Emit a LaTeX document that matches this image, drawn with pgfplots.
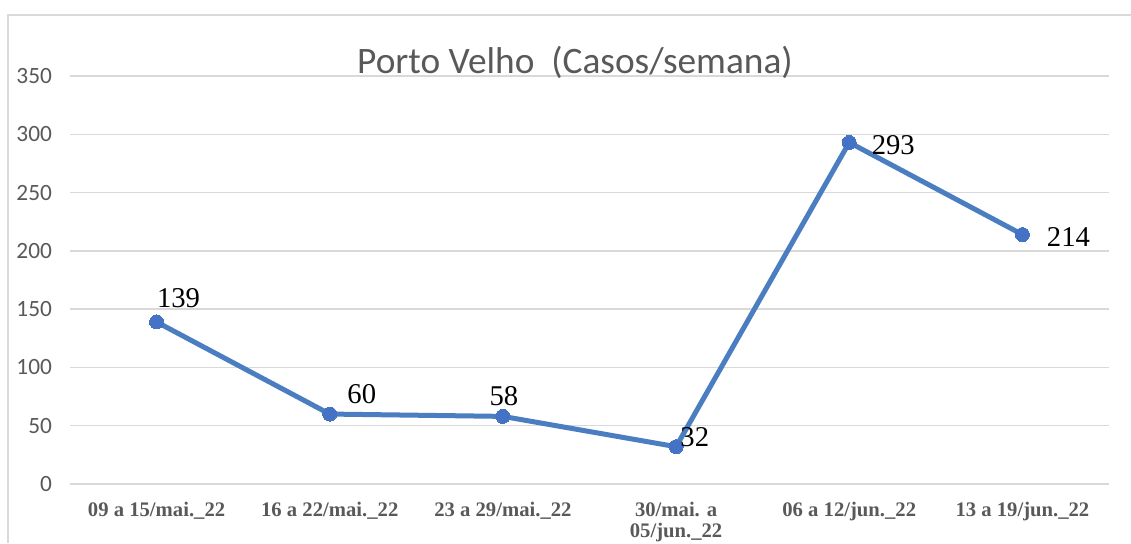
\documentclass[border=0pt]{standalone}
\usepackage{pgfplots}
\pgfplotsset{compat=1.18}
\usepackage{fontspec}
\setmainfont{Liberation Serif}
\newfontfamily\carlito{Carlito}
\definecolor{txtgray}{HTML}{595959}
\definecolor{gridgray}{HTML}{D9D9D9}
\definecolor{linec}{RGB}{74,126,193}
\definecolor{markc}{RGB}{68,114,196}
\pgfplotstableread{
x y dx dy
0 139 16.5 18
1 60 24 15
2 58 0.75 15
3 32 14 7.5
4 293 33 -2.25
5 214 34.5 -1.5
}\datatable
\begin{document}
\begin{tikzpicture}
\begin{axis}[
  scale only axis, width=779.25pt, height=306pt,
  xmin=-0.5, xmax=5.5, ymin=0, ymax=350,
  xtick={0,...,5},
  xticklabels={09 a 15/mai.\_22, 16 a 22/mai.\_22, 23 a 29/mai.\_22, {30/mai. a\\05/jun.\_22}, 06 a 12/jun.\_22, 13 a 19/jun.\_22},
  ytick={0,50,...,350},
  axis line style={draw=none},
  major tick length=0pt,
  ymajorgrids, grid style={gridgray, line width=1.1pt},
  /pgf/number format/assume math mode=true,
  yticklabel style={font=\carlito\fontsize{17.5}{17.5}\selectfont, text=txtgray, anchor=east, xshift=-10pt},
  xticklabel style={font=\bfseries\fontsize{15.5}{15.75}\selectfont, text=txtgray, align=center, anchor=north, yshift=-10pt},
  clip=false,
]
\coordinate (O) at (rel axis cs:0,0);
\addplot[linec, line width=3.75pt, mark=*, mark size=5.25pt, mark options={fill=markc, draw=markc, line width=0pt},
  nodes near coords, point meta=explicit,
  visualization depends on={\thisrow{dx} \as \dx},
  visualization depends on={\thisrow{dy} \as \dy},
  every node near coord/.append style={anchor=center, xshift=\dx, yshift=\dy, font=\fontsize{21.5}{22}\selectfont, text=black}]
  table[x=x, y=y, meta=y] {\datatable};
\end{axis}
\pgfresetboundingbox
\begin{scope}[shift={(O)}, x=1pt, y=1pt]
\path[use as bounding box] (-52.5,-44.25) rectangle ++(848.25,407.25);
\draw[gridgray, line width=1.5pt] (6-52.5,-44.25) -- (6-52.5,396-44.25) -- (870,396-44.25);
\node[font=\carlito\fontsize{28}{30}\selectfont, text=txtgray] at (431.25-52.5,360.75-44.25) {Porto Velho\ \ (Casos/semana)};
\end{scope}
\end{tikzpicture}
\end{document}
